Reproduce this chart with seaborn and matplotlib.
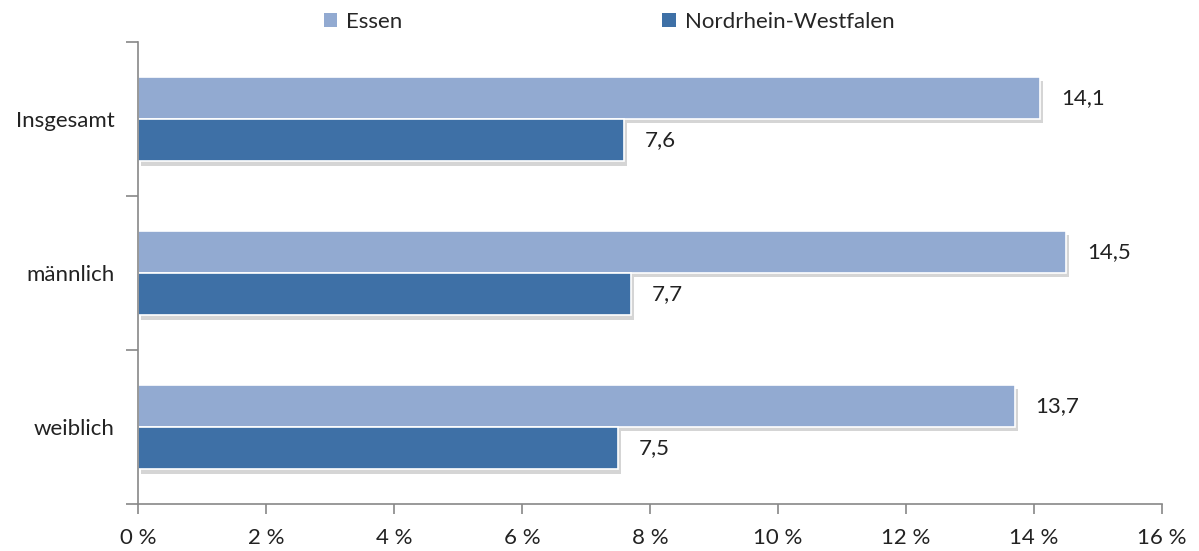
import pandas as pd
import matplotlib
matplotlib.use("Agg")
import matplotlib.pyplot as plt
import matplotlib.patheffects as pe
import seaborn as sns

categories = ["Insgesamt", "männlich", "weiblich"]
series = ["Essen", "Nordrhein-Westfalen"]
essen = [14.1, 14.5, 13.7]
nrw = [7.6, 7.7, 7.5]
x_ticks = [0, 2, 4, 6, 8, 10, 12, 14, 16]

colors = {"Essen": "#92aad1", "Nordrhein-Westfalen": "#3e70a6"}
FS = 16

data = pd.DataFrame({
    "Gruppe": categories * 2,
    "Region": [series[0]] * 3 + [series[1]] * 3,
    "Wert": essen + nrw,
})

sns.set_style("white")
plt.rcParams["font.family"] = ["Lato", "DejaVu Sans"]

fig = plt.figure(figsize=(11.99, 5.51), dpi=100)
ax = fig.add_axes([0.1151, 0.0853, 0.8540, 0.8385])

sns.barplot(data=data, x="Wert", y="Gruppe", hue="Region", order=categories,
            hue_order=series, palette=colors, orient="h", width=0.55, saturation=1,
            edgecolor="white", linewidth=1.2, ax=ax, legend=True)

handles, labs = ax.get_legend_handles_labels()
ax.get_legend().remove()

# leichter Schatten unter den Balken
shadow = [pe.SimplePatchShadow(offset=(2, -3), shadow_rgbFace="#888888", alpha=0.35), pe.Normal()]
for p in ax.patches:
    p.set_path_effects(shadow)

for cont in ax.containers:
    labels = [f"{v:.1f}".replace(".", ",") for v in cont.datavalues]
    ax.bar_label(cont, labels=labels, padding=15, fontsize=FS, color="#222222")

leg = fig.legend(handles, labs, loc="upper center", bbox_to_anchor=(0.508, 1.015), ncol=2,
                 frameon=False, fontsize=FS, handlelength=0.6, handleheight=0.6,
                 handletextpad=0.4, columnspacing=11.7)
for h in leg.legend_handles:
    h.set_path_effects([])
    h.set_edgecolor("none")

ax.set_xlim(0, 16)
ax.set_xticks(x_ticks)
ax.set_xticklabels([f"{t} %" for t in x_ticks], fontsize=FS, color="#222222")
ax.set_ylim(2.5, -0.5)
ax.set_yticks([-0.5, 0.5, 1.5, 2.5])
ax.set_yticklabels([])
ax.set_yticks([0, 1, 2], minor=True)
ax.set_yticklabels(categories, minor=True, fontsize=FS, color="#222222")
ax.tick_params(axis="y", which="minor", length=0, pad=17)
ax.tick_params(axis="y", which="major", length=9, width=1.2, color="#888888", direction="out", left=True)
ax.tick_params(axis="x", length=7, width=1.2, color="#888888", direction="out", bottom=True, pad=10)
ax.set_xlabel("")
ax.set_ylabel("")

sns.despine(ax=ax)
for s in ["left", "bottom"]:
    ax.spines[s].set_color("#888888")
    ax.spines[s].set_linewidth(1.2)

fig.savefig("out.png", dpi=100)
